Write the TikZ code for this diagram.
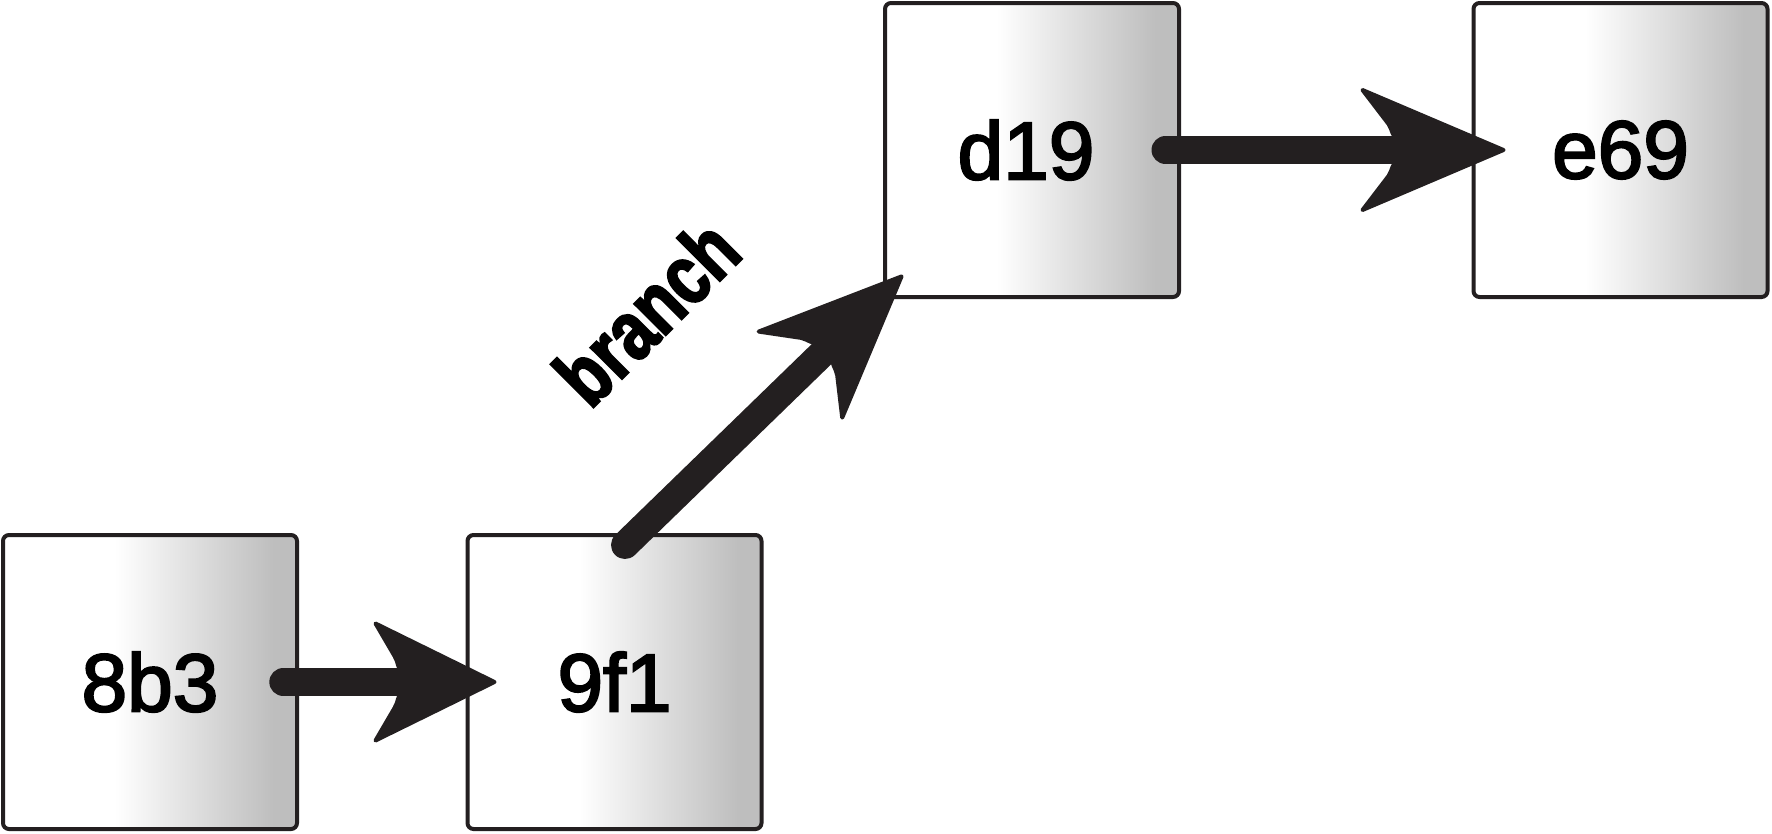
\documentclass[tikz,border=0pt]{standalone}
\usepackage{fontspec}
\setmainfont{Liberation Sans}
\newfontfamily\digitfont[FakeBold=2.6]{Liberation Sans}
\newfontfamily\lblfont[FakeStretch=0.78,FakeBold=2.5]{Liberation Sans Bold}
\usetikzlibrary{arrows.meta,calc}
\definecolor{ink}{HTML}{231F20}
\definecolor{boxgray}{RGB}{190,190,190}
\pgfdeclarehorizontalshading{boxshade}{100bp}{color(0bp)=(white); color(25bp)=(white); color(44bp)=(white); color(71bp)=(boxgray); color(100bp)=(boxgray)}
\newcommand\mkbarb[5]{%
\pgfdeclarearrow{
  name=#1,
  setup code={%
    \pgfarrowssettipend{0pt}%
    \pgfarrowssetlineend{#4pt}%
    \pgfarrowssetvisualbackend{#4pt}%
    \pgfarrowssetbackend{#2pt}%
    \pgfarrowshullpoint{0pt}{0pt}%
    \pgfarrowshullpoint{#2pt}{#5pt}%
    \pgfarrowshullpoint{#2pt}{-#5pt}%
  },
  drawing code={%
    \pgfsetlinewidth{4pt}\pgfsetroundjoin\pgfsetroundcap
    \pgfsetfillcolor{ink}\pgfsetstrokecolor{ink}%
    \pgfpathmoveto{\pgfqpoint{-2pt}{0pt}}%
    \pgfpathlineto{\pgfqpoint{#2pt}{#5pt}}%
    \pgfpathlineto{\pgfqpoint{#3pt}{26pt}}%
    \pgfpathcurveto{\pgfpointadd{\pgfqpoint{#3pt}{20pt}}{\pgfqpoint{4pt}{0pt}}}{\pgfpointadd{\pgfqpoint{#4pt}{12.5pt}}{\pgfqpoint{-4pt}{0pt}}}{\pgfqpoint{#4pt}{12.5pt}}%
    \pgfpathlineto{\pgfqpoint{#4pt}{-12.5pt}}%
    \pgfpathcurveto{\pgfpointadd{\pgfqpoint{#4pt}{-12.5pt}}{\pgfqpoint{-4pt}{0pt}}}{\pgfpointadd{\pgfqpoint{#3pt}{-20pt}}{\pgfqpoint{4pt}{0pt}}}{\pgfqpoint{#3pt}{-26pt}}%
    \pgfpathlineto{\pgfqpoint{#2pt}{-#5pt}}%
    \pgfpathclose
    \pgfusepathqfillstroke
  }
}}
\mkbarb{BarbS}{-121}{-102}{-95}{58.5}
\mkbarb{BarbL}{-143}{-117}{-109}{60}
\begin{document}
\begin{tikzpicture}[x=1pt,y=-1pt,
  commit/.style={draw=ink, line width=4pt, rounded corners=6pt, shading=boxshade,
    minimum width=294pt, minimum height=294pt, inner sep=0pt,
    font=\digitfont\fontsize{82pt}{90pt}\selectfont, text=black},
  link/.style={draw=ink, line width=28pt, line cap=round},
  lbl/.style={inner sep=0pt, text=black, font=\lblfont\fontsize{84pt}{90pt}\selectfont}]
\useasboundingbox (0,0) rectangle (1772,833);
\node[commit] (a) at (150,682) {8b3};
\node[commit] (b) at (614.5,682) {9f1};
\node[commit] (c) at (1032,150) {\hspace*{-12pt}d19};
\node[commit] (d) at (1620.5,150) {e69};
\draw[link, -{BarbS}] ($(a.east)+(-15.7,0)$) -- ($(b.west)+(31,0)$);
\draw[link, -{BarbL}] ($(b.north)+(10.5,12)$) -- ($(c.south west)+(20,-24)$);
\draw[link, -{BarbL}] ($(c.east)+(-15.5,0)$) -- ($(d.west)+(34,0)$);
\node[lbl, rotate=45] (br) at ($(b.north)+(32,-221)$) {branch};
\end{tikzpicture}
\end{document}
